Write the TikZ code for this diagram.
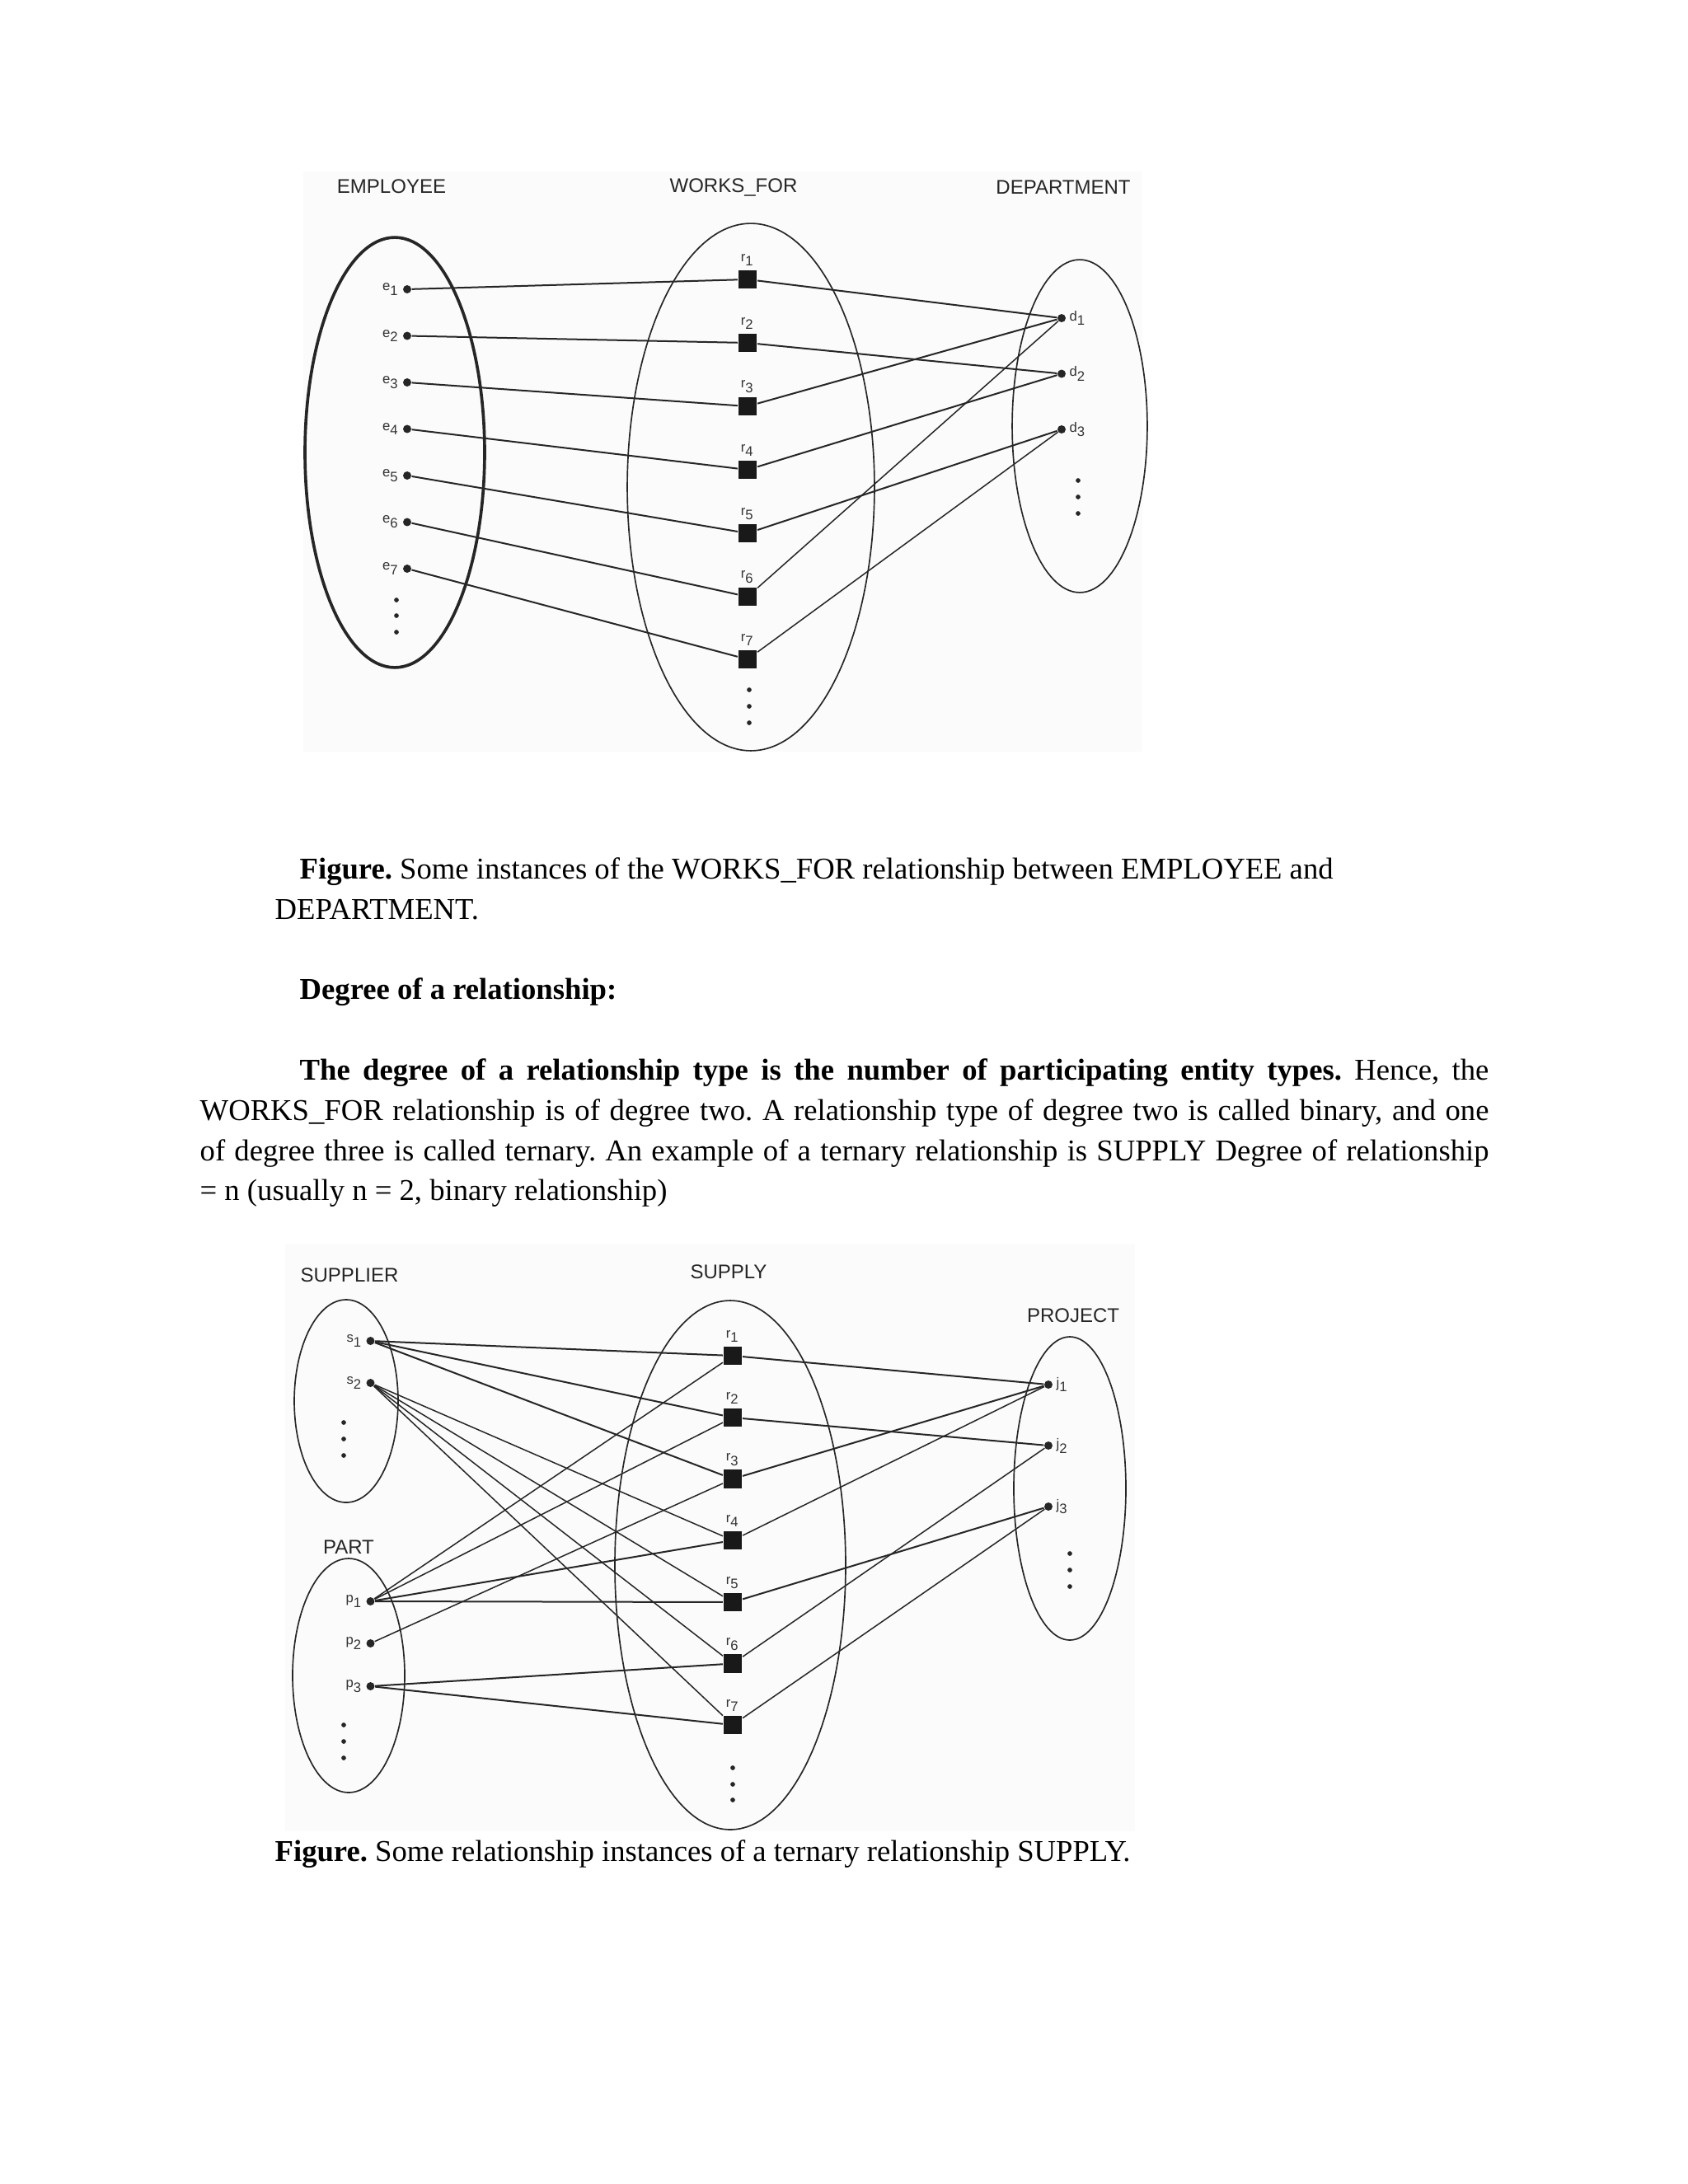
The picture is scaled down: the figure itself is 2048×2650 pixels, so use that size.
\documentclass[tikz,border=0pt]{standalone}
\usepackage{fontspec}
\setmainfont{Liberation Serif}
\newfontfamily\diagfont{Liberation Sans}
\frenchspacing

\begin{document}
\begin{tikzpicture}[x=0.010542cm,y=-0.010542cm,
  ent/.style={circle,fill=black!85,inner sep=0pt,minimum size=0.105cm},
  rel/.style={rectangle,fill=black!90,inner sep=0pt,minimum size=0.24cm},
  more/.style={circle,fill=black!85,inner sep=0pt,minimum size=0.06cm},
  set/.style={draw=black!85,line width=0.5pt},
  link/.style={draw=black!85,line width=0.6pt},
  head/.style={font=\diagfont\fontsize{7.2}{8}\selectfont,text=black!85,inner sep=0pt},
  sub/.style={font=\diagfont\fontsize{5}{6}\selectfont,text=black!80,inner sep=1pt},
  body/.style={font=\fontsize{11}{14.64}\selectfont,inner sep=0pt,anchor=base west}]
  \useasboundingbox (0,0) rectangle (2048,2650);
  \fill[white] (0,0) rectangle (2048,2650);

  % WORKS_FOR figure
  \fill[black!1.5] (368,208) rectangle (1386,912);
  \node[head] (emp) at (475,226) {EMPLOYEE};
  \node[head] (wf) at (890,227) {WORKS\_FOR};
  \node[head] (dept) at (1290,227) {DEPARTMENT};
  \draw[set,line width=1.1pt] (479,549) ellipse [x radius=1.149cm,y radius=2.751cm];
  \draw[set] (911,591) ellipse [x radius=1.581cm,y radius=3.373cm];
  \draw[set] (1310,517) ellipse [x radius=0.864cm,y radius=2.129cm];

  \node[ent,label={[sub]left:e\textsubscript{1}}] (e1) at (494,351) {};
  \node[ent,label={[sub]left:e\textsubscript{2}}] (e2) at (494,407.5) {};
  \node[ent,label={[sub]left:e\textsubscript{3}}] (e3) at (494,464) {};
  \node[ent,label={[sub]left:e\textsubscript{4}}] (e4) at (494,520.5) {};
  \node[ent,label={[sub]left:e\textsubscript{5}}] (e5) at (494,577) {};
  \node[ent,label={[sub]left:e\textsubscript{6}}] (e6) at (494,633.5) {};
  \node[ent,label={[sub]left:e\textsubscript{7}}] (e7) at (494,690) {};
  \node[more] (emore1) at (481,728) {};
  \node[more] (emore2) at (481,747) {};
  \node[more] (emore3) at (481,767) {};

  \node[rel,label={[sub]above:r\textsubscript{1}}] (w1) at (907,339) {};
  \node[rel,label={[sub]above:r\textsubscript{2}}] (w2) at (907,416) {};
  \node[rel,label={[sub]above:r\textsubscript{3}}] (w3) at (907,493) {};
  \node[rel,label={[sub]above:r\textsubscript{4}}] (w4) at (907,570) {};
  \node[rel,label={[sub]above:r\textsubscript{5}}] (w5) at (907,647) {};
  \node[rel,label={[sub]above:r\textsubscript{6}}] (w6) at (907,724) {};
  \node[rel,label={[sub]above:r\textsubscript{7}}] (w7) at (907,800) {};
  \node[more] (wmore1) at (909,837) {};
  \node[more] (wmore2) at (909,857) {};
  \node[more] (wmore3) at (909,877) {};

  \node[ent,label={[sub]right:d\textsubscript{1}}] (d1) at (1288,386) {};
  \node[ent,label={[sub]right:d\textsubscript{2}}] (d2) at (1288,453.5) {};
  \node[ent,label={[sub]right:d\textsubscript{3}}] (d3) at (1288,521) {};
  \node[more] (dmore1) at (1308,583) {};
  \node[more] (dmore2) at (1308,603) {};
  \node[more] (dmore3) at (1308,623) {};

  \draw[link] (e1) -- (w1);
  \draw[link] (e2) -- (w2);
  \draw[link] (e3) -- (w3);
  \draw[link] (e4) -- (w4);
  \draw[link] (e5) -- (w5);
  \draw[link] (e6) -- (w6);
  \draw[link] (e7) -- (w7);
  \draw[link] (w1) -- (d1);
  \draw[link] (w2) -- (d2);
  \draw[link] (w3) -- (d1);
  \draw[link] (w4) -- (d2);
  \draw[link] (w5) -- (d3);
  \draw[link,line width=0.45pt] (w6) -- (d1);
  \draw[link,line width=0.45pt] (w7) -- (d3);

  % text between the figures
  \node[body] (cap1) at (363,1066) {\textbf{Figure.} Some instances of the WORKS\_FOR relationship between EMPLOYEE and};
  \node[body] (cap1b) at (333,1115) {DEPARTMENT.};
  \node[body] (deg) at (363,1212) {\textbf{Degree of a relationship:}};
  \node[body,anchor=north west,text width=16.488cm,align=justify] (para) at (242,1275.7)
    {\strut\hspace*{1.276cm}\textbf{The degree of a relationship type is the number of participating entity types.} Hence, the\linebreak
     WORKS\_FOR relationship is of degree two. A relationship type of degree two is called binary, and one\linebreak
     of degree three is called ternary. An example of a ternary relationship is SUPPLY Degree of relationship\linebreak
     = n (usually n = 2, binary relationship)};

  % SUPPLY figure
  \fill[black!1.5] (346,1509) rectangle (1377,2222);
  \node[head] (supplier) at (424,1547) {SUPPLIER};
  \node[head] (supply) at (884,1543) {SUPPLY};
  \node[head] (project) at (1302,1596) {PROJECT};
  \node[head] (part) at (423,1877) {PART};
  \draw[set] (420,1700) ellipse [x radius=0.664cm,y radius=1.297cm];
  \draw[set] (423,2033) ellipse [x radius=0.717cm,y radius=1.497cm];
  \draw[set] (886,1899) ellipse [x radius=1.476cm,y radius=3.384cm];
  \draw[set] (1298,1806) ellipse [x radius=0.717cm,y radius=1.94cm];

  \node[ent,label={[sub]left:s\textsubscript{1}}] (s1) at (449.5,1627) {};
  \node[ent,label={[sub]left:s\textsubscript{2}}] (s2) at (449.5,1678) {};
  \node[more] (smore1) at (417,1726) {};
  \node[more] (smore2) at (417,1746) {};
  \node[more] (smore3) at (417,1766) {};

  \node[ent,label={[sub]left:p\textsubscript{1}}] (p1) at (449.5,1943) {};
  \node[ent,label={[sub]left:p\textsubscript{2}}] (p2) at (449.5,1994) {};
  \node[ent,label={[sub]left:p\textsubscript{3}}] (p3) at (449.5,2046) {};
  \node[more] (pmore1) at (417,2093) {};
  \node[more] (pmore2) at (417,2113) {};
  \node[more] (pmore3) at (417,2133) {};

  \node[rel,label={[sub]above:r\textsubscript{1}}] (r1) at (889,1645) {};
  \node[rel,label={[sub]above:r\textsubscript{2}}] (r2) at (889,1720) {};
  \node[rel,label={[sub]above:r\textsubscript{3}}] (r3) at (889,1794.5) {};
  \node[rel,label={[sub]above:r\textsubscript{4}}] (r4) at (889,1869) {};
  \node[rel,label={[sub]above:r\textsubscript{5}}] (r5) at (889,1944) {};
  \node[rel,label={[sub]above:r\textsubscript{6}}] (r6) at (889,2018.5) {};
  \node[rel,label={[sub]above:r\textsubscript{7}}] (r7) at (889,2093) {};
  \node[more] (rmore1) at (889,2145) {};
  \node[more] (rmore2) at (889,2165) {};
  \node[more] (rmore3) at (889,2184) {};

  \node[ent,label={[sub]right:j\textsubscript{1}}] (j1) at (1272,1680) {};
  \node[ent,label={[sub]right:j\textsubscript{2}}] (j2) at (1272,1754) {};
  \node[ent,label={[sub]right:j\textsubscript{3}}] (j3) at (1272,1828) {};
  \node[more] (jmore1) at (1298,1885) {};
  \node[more] (jmore2) at (1298,1905) {};
  \node[more] (jmore3) at (1298,1925) {};

  \draw[link] (s1) -- (r1);
  \draw[link] (s1) -- (r2);
  \draw[link] (s1) -- (r3);
  \draw[link,line width=0.45pt] (s2) -- (r4);
  \draw[link,line width=0.45pt] (s2) -- (r5);
  \draw[link,line width=0.45pt] (s2) -- (r6);
  \draw[link,line width=0.45pt] (s2) -- (r7);
  \draw[link,line width=0.45pt] (p1) -- (r1);
  \draw[link,line width=0.45pt] (p1) -- (r2);
  \draw[link] (p1) -- (r4);
  \draw[link] (p1) -- (r5);
  \draw[link,line width=0.45pt] (p2) -- (r3);
  \draw[link] (p3) -- (r6);
  \draw[link] (p3) -- (r7);
  \draw[link] (r1) -- (j1);
  \draw[link] (r2) -- (j2);
  \draw[link] (r3) -- (j1);
  \draw[link,line width=0.45pt] (r4) -- (j1);
  \draw[link] (r5) -- (j3);
  \draw[link,line width=0.45pt] (r6) -- (j2);
  \draw[link,line width=0.45pt] (r7) -- (j3);

  \node[body] (cap2) at (333,2258) {\textbf{Figure.} Some relationship instances of a ternary relationship SUPPLY.};
\end{tikzpicture}
\end{document}
